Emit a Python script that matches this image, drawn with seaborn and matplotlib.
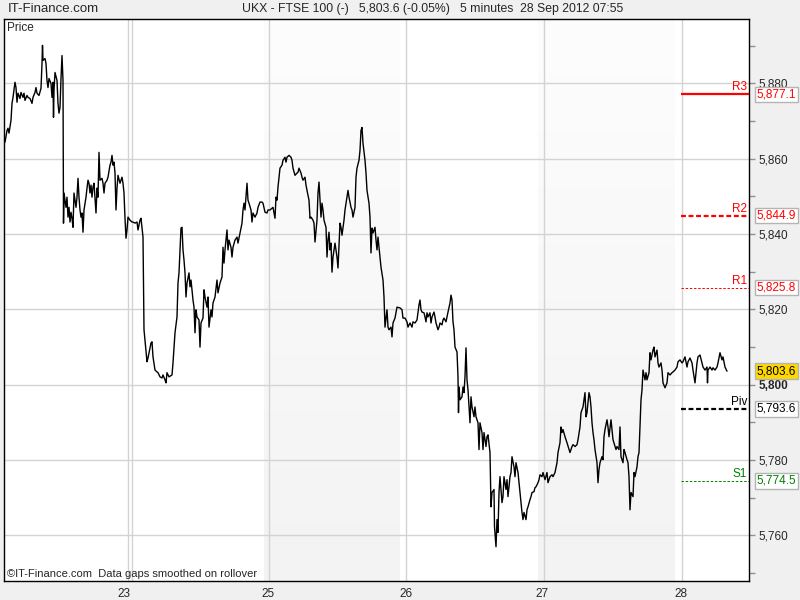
import matplotlib
matplotlib.use("Agg")
import matplotlib.pyplot as plt
import matplotlib.transforms as mtransforms
from matplotlib.colors import LinearSegmentedColormap
import numpy as np
import seaborn as sns

# 5 minute bars (x = bar position on the compressed time axis), FTSE 100 price
bar = [
    5, 7, 8, 9, 11, 12, 13, 15, 16, 17, 18, 20,
    21, 23, 24, 25, 27, 28, 30, 32, 33, 35, 36, 37,
    39, 41, 42, 42.5, 43, 45, 46, 47, 48, 49, 51, 52,
    53, 53.5, 54, 55, 57, 58, 59, 60, 61, 62, 63, 63.5,
    64, 66, 67, 68, 69, 70, 71, 72, 73, 74, 76, 77,
    78, 79, 80, 81, 82, 83, 84, 86, 87, 88, 89, 90,
    91, 92, 93, 94, 96, 97, 98, 99, 100, 102, 103, 104,
    105, 107, 108, 110, 111, 112, 113, 114, 115, 116, 117, 118,
    120, 122, 123, 124, 125, 126, 127, 128, 130, 132, 133, 135,
    137, 138, 140, 141, 142, 143, 144, 147, 148, 151, 152, 153,
    155, 157, 158, 160, 162, 163, 165, 166, 167, 169, 172, 173,
    175, 177, 178, 179, 181, 182, 183, 184, 185, 186, 187, 189,
    190, 191, 193, 194, 195, 196, 197, 199, 200, 201, 203, 204,
    205, 207, 208, 209, 211, 212, 213, 215, 217, 218, 220, 222,
    223, 224, 225, 227, 228, 229, 231, 232, 233, 235, 237, 238,
    240, 242, 243, 244, 245, 247, 248, 249, 251, 252, 253, 255,
    257, 258, 260, 262, 263, 265, 267, 268, 270, 273, 275, 276,
    277, 278, 280, 282, 283, 285, 286, 287, 289, 291, 292, 293,
    295, 297, 298, 299, 301, 302, 303, 305, 306, 307, 309, 310,
    311, 313, 314, 315, 317, 318, 319, 320, 321, 322, 323, 324,
    326, 327, 328, 329, 330, 331, 332, 333, 335, 336, 337, 338,
    340, 341, 342, 344, 345, 347, 348, 349, 351, 352, 353, 355,
    356, 357, 359, 360, 361, 362, 363, 365, 366, 367, 369, 370,
    371, 372, 373, 375, 376, 377, 378, 380, 381, 383, 384, 385,
    387, 388, 389, 391, 392, 393, 395, 396, 397, 400, 402, 403,
    405, 407, 408, 410, 412, 413, 415, 417, 418, 419, 420, 421,
    422, 424, 425, 426, 427, 428, 430, 431, 432, 434, 435, 436,
    438, 439, 440, 442, 443, 444, 446, 447, 448, 450, 451, 452,
    453, 454, 455, 457, 458, 458.5, 459, 460, 462, 463, 464, 465,
    466, 467, 468, 470, 471, 472, 474, 475, 476, 478, 479, 480,
    482, 483, 484, 486, 487, 488, 490, 491, 492, 494, 494.5, 496,
    497, 498, 499, 500, 502, 503, 504, 506, 507, 508, 510, 511,
    512, 514, 515, 516, 518, 519, 520, 522, 523, 524, 526, 527,
    528, 530, 531, 532, 534, 535, 536, 538, 539, 540, 542, 543,
    545, 547, 548, 550, 552, 553, 555, 557, 558, 560, 561, 562,
    563, 565, 566, 567, 569, 570, 572, 573, 575, 577, 578, 580,
    581, 583, 584, 585, 586, 587, 589, 590, 591, 592, 593, 594,
    595, 597, 598, 599, 600, 602, 603, 604, 605, 607, 608, 609,
    611, 612, 613, 615, 616, 617, 619, 620, 621, 623, 624, 625,
    627, 628, 629, 630, 631, 633, 634, 635, 637, 638, 639, 640,
    641, 642, 643, 645, 646, 647, 649, 650, 651, 653, 654, 655,
    657, 658, 659, 661, 662, 663, 665, 667, 668, 670, 672, 673,
    675, 677, 678, 680, 682, 683, 685, 687, 688, 690, 692, 693,
    695, 697, 698, 700, 702, 703, 705, 707, 707.5, 708, 710, 712,
    713, 715, 717, 718, 720, 722, 723, 725, 727,
]
price = [
    5864.4, 5867.5, 5868.1, 5866.8, 5870.2, 5874.7, 5876.3, 5880.3, 5878.9, 5875.0, 5877.4, 5876.0,
    5877.6, 5876.3, 5877.4, 5875.5, 5876.8, 5876.3, 5876.0, 5874.7, 5876.3, 5877.6, 5878.9, 5877.4,
    5876.8, 5878.7, 5885.3, 5890.1, 5886.1, 5886.6, 5885.3, 5880.8, 5878.9, 5881.3, 5880.0, 5876.3,
    5880.3, 5871.0, 5878.2, 5882.9, 5880.8, 5874.7, 5872.1, 5873.6, 5881.3, 5887.4, 5880.8, 5842.9,
    5850.9, 5847.1, 5849.8, 5844.5, 5847.1, 5843.2, 5845.8, 5844.2, 5841.8, 5850.9, 5847.1, 5849.8,
    5854.8, 5849.8, 5846.4, 5844.5, 5845.6, 5840.5, 5846.4, 5849.8, 5852.2, 5854.3, 5853.5, 5850.9,
    5853.0, 5849.8, 5852.5, 5853.5, 5845.6, 5852.2, 5849.8, 5861.7, 5854.3, 5854.8, 5853.5, 5850.9,
    5853.5, 5854.3, 5855.1, 5858.3, 5859.1, 5860.9, 5858.3, 5859.1, 5856.2, 5846.4, 5852.2, 5855.6,
    5853.5, 5855.1, 5853.5, 5850.9, 5844.2, 5838.9, 5841.1, 5844.5, 5843.7, 5843.2, 5843.2, 5842.9,
    5843.2, 5841.1, 5843.7, 5844.2, 5841.8, 5839.2, 5814.6, 5806.1, 5807.1, 5811.1, 5811.4, 5807.4,
    5803.9, 5803.4, 5803.2, 5802.1, 5801.8, 5802.6, 5801.3, 5800.5, 5803.2, 5802.1, 5802.6, 5805.8,
    5813.8, 5818.0, 5827.0, 5829.7, 5841.6, 5841.8, 5835.8, 5833.1, 5829.7, 5823.3, 5827.0, 5829.7,
    5826.0, 5827.8, 5822.5, 5820.6, 5813.8, 5819.9, 5818.0, 5817.2, 5810.0, 5816.4, 5817.7, 5825.2,
    5823.3, 5820.6, 5823.3, 5815.3, 5819.9, 5818.0, 5821.7, 5823.3, 5827.8, 5824.4, 5827.0, 5828.6,
    5836.5, 5832.3, 5835.8, 5841.1, 5835.8, 5838.4, 5836.5, 5833.9, 5836.5, 5838.4, 5839.2, 5837.6,
    5840.3, 5842.9, 5846.4, 5848.2, 5846.4, 5853.5, 5849.0, 5848.2, 5846.4, 5843.2, 5845.6, 5844.5,
    5845.6, 5847.1, 5848.5, 5848.5, 5848.2, 5845.8, 5845.6, 5846.4, 5846.4, 5847.1, 5844.2, 5849.8,
    5849.0, 5852.5, 5857.5, 5858.3, 5859.6, 5860.4, 5859.1, 5860.4, 5860.9, 5860.4, 5859.6, 5857.5,
    5855.6, 5856.2, 5856.4, 5857.5, 5856.2, 5855.1, 5854.3, 5855.1, 5853.0, 5851.6, 5849.0, 5844.2,
    5844.5, 5843.7, 5842.9, 5837.9, 5843.7, 5850.9, 5853.8, 5849.0, 5844.5, 5848.2, 5846.4, 5843.7,
    5841.8, 5833.9, 5838.4, 5840.5, 5835.8, 5837.6, 5829.9, 5833.9, 5837.6, 5835.8, 5833.9, 5831.0,
    5842.9, 5841.8, 5839.7, 5843.7, 5846.4, 5849.8, 5851.6, 5849.8, 5847.1, 5846.4, 5844.5, 5847.1,
    5855.1, 5857.5, 5859.6, 5862.2, 5867.5, 5868.3, 5864.1, 5859.6, 5856.2, 5851.6, 5848.2, 5844.5,
    5835.0, 5841.6, 5840.3, 5841.8, 5838.4, 5835.8, 5839.2, 5833.9, 5831.2, 5827.8, 5823.3, 5815.3,
    5819.9, 5815.3, 5814.6, 5815.3, 5812.7, 5816.4, 5817.7, 5819.1, 5820.6, 5820.4, 5819.9, 5817.7,
    5817.7, 5816.7, 5815.3, 5816.4, 5815.3, 5816.7, 5816.4, 5817.2, 5819.1, 5821.2, 5822.5, 5819.9,
    5819.3, 5819.1, 5818.0, 5816.7, 5819.1, 5818.0, 5819.1, 5816.4, 5818.0, 5819.3, 5818.0, 5816.4,
    5814.6, 5815.3, 5816.4, 5815.9, 5817.2, 5817.7, 5816.7, 5818.0, 5819.3, 5821.7, 5823.8, 5822.5,
    5816.7, 5814.6, 5810.0, 5808.7, 5802.1, 5792.6, 5799.4, 5796.0, 5796.8, 5799.4, 5797.9, 5802.1,
    5809.8, 5801.3, 5798.7, 5789.9, 5796.8, 5794.1, 5791.5, 5794.1, 5791.5, 5789.9, 5782.8, 5789.9,
    5787.3, 5782.8, 5787.3, 5783.6, 5786.2, 5786.7, 5782.0, 5767.6, 5771.4, 5772.2, 5762.3, 5757.0,
    5764.2, 5760.8, 5771.4, 5775.6, 5768.7, 5770.3, 5775.6, 5772.2, 5774.8, 5770.3, 5775.6, 5776.7,
    5780.9, 5778.2, 5775.6, 5779.3, 5776.7, 5774.0, 5771.4, 5766.1, 5764.2, 5766.1, 5764.2, 5766.8,
    5767.6, 5769.5, 5770.3, 5771.4, 5771.6, 5772.7, 5772.9, 5774.0, 5774.8, 5776.1, 5775.6, 5776.7,
    5774.8, 5776.7, 5774.0, 5775.6, 5776.1, 5775.6, 5776.7, 5779.3, 5782.0, 5784.6, 5788.8, 5787.3,
    5788.1, 5786.2, 5785.4, 5784.6, 5782.8, 5782.0, 5783.6, 5784.1, 5783.6, 5784.1, 5785.4, 5788.8,
    5792.6, 5794.1, 5796.0, 5797.9, 5791.5, 5792.6, 5797.9, 5796.8, 5794.1, 5789.9, 5787.3, 5785.4,
    5782.8, 5779.3, 5774.0, 5777.5, 5779.3, 5780.9, 5780.1, 5786.2, 5788.1, 5790.7, 5788.8, 5786.2,
    5790.7, 5788.1, 5785.4, 5783.6, 5782.8, 5783.6, 5782.8, 5788.8, 5780.9, 5779.3, 5782.8, 5782.0,
    5780.1, 5779.3, 5775.6, 5766.8, 5771.4, 5770.3, 5776.7, 5775.6, 5778.2, 5780.9, 5782.0, 5788.8,
    5796.0, 5798.6, 5803.9, 5801.3, 5803.2, 5801.3, 5803.2, 5808.5, 5806.6, 5809.2, 5810.0, 5807.4,
    5809.2, 5805.8, 5804.7, 5805.8, 5803.9, 5800.5, 5799.2, 5800.5, 5803.2, 5802.6, 5803.2, 5803.4,
    5803.9, 5804.7, 5806.1, 5806.6, 5805.8, 5806.1, 5807.4, 5804.7, 5806.1, 5807.1, 5805.8, 5803.9,
    5800.5, 5805.8, 5807.4, 5807.9, 5805.8, 5804.7, 5803.9, 5804.7, 5800.5, 5803.9, 5804.7, 5803.9,
    5804.5, 5803.9, 5804.7, 5805.8, 5808.5, 5806.6, 5807.4, 5804.7, 5803.6,
]

# time axis: day labels and grid positions (in bar units)
day_ticks = [124, 268, 406, 542, 681]
day_labels = ["23", "25", "26", "27", "28"]
day_grid = [128, 132, 269, 406, 544, 682]
session_bands = [(264, 400), (538, 675)]

price_ticks = [5760, 5780, 5800, 5820, 5840, 5860, 5880]
price_minor = [5750, 5770, 5790, 5810, 5830, 5850, 5870, 5890]

# pivot levels for the day
pivot_names = ["R3", "R2", "R1", "Piv", "S1"]
pivot_values = [5877.1, 5844.9, 5825.8, 5793.6, 5774.5]
pivot_colors = ["#ff0000", "#ff0000", "#ff0000", "#000000", "#008000"]
pivot_styles = ["-", (0, (2.2, 1.2)), (0, (2.5, 1.8)), (0, (2.2, 1.2)), (0, (2.5, 1.8))]
pivot_widths = [1.6, 1.6, 0.7, 1.6, 0.7]
pivot_start = 681

last_price = 5803.6
x_min, x_max = 4, 749
y_min, y_max = 5747.9, 5897.1

sns.set_style("white")
plt.rcParams["font.family"] = ["Liberation Sans", "DejaVu Sans"]

fig = plt.figure(figsize=(8, 6), dpi=100, facecolor="#f0f0f0")
ax = fig.add_axes([4 / 800, 19 / 600, 745 / 800, 562 / 600])
ax.set_facecolor("white")

# shaded sessions with a soft vertical gradient
band_cmap = LinearSegmentedColormap.from_list("band", ["#f3f3f3", "#fdfdfd"])
for a, b in session_bands:
    ax.imshow(np.linspace(0, 1, 200).reshape(-1, 1), extent=[a, b, y_min, y_max],
              origin="lower", cmap=band_cmap, aspect="auto", zorder=0)

for v in price_ticks:
    ax.axhline(v, color="#d3d3d3", lw=1.0, zorder=1)
for v in day_grid:
    ax.axvline(v, color="#d3d3d3", lw=1.0, zorder=1)

sns.lineplot(x=bar, y=price, ax=ax, color="black", linewidth=1.0,
             estimator=None, sort=False, zorder=3)

# pivot lines with their names
for name, v, c, ls, lw in zip(pivot_names, pivot_values, pivot_colors, pivot_styles, pivot_widths):
    ax.hlines(v, pivot_start, x_max, colors=c, linestyles=ls, linewidth=lw, zorder=4)
    ax.annotate(name, (x_max, v), xytext=(-2, 1), textcoords="offset pixels",
                ha="right", va="bottom", color=c, fontsize=8.5)

ax.set_xlim(x_min, x_max)
ax.set_ylim(y_min, y_max)

ax.yaxis.tick_right()
ax.set_yticks(price_ticks)
ax.set_yticklabels([f"{v:,}" for v in price_ticks])
ax.set_yticks(price_minor, minor=True)
ax.tick_params(axis="y", which="both", direction="out", length=4, width=1,
               color="#909090", labelsize=8.5, pad=3, left=False, right=True)
for lab in ax.get_yticklabels():
    if lab.get_text() == "5,800":
        lab.set_fontweight("bold")

ax.set_xticks(day_ticks)
ax.set_xticklabels(day_labels)
ax.tick_params(axis="x", length=0, labelsize=8.5, pad=5)
ax.set_xlabel("")
ax.set_ylabel("")

for s in ax.spines.values():
    s.set_color("black")
    s.set_linewidth(1.0)

# boxed price labels on the right side
blend = mtransforms.blended_transform_factory(ax.transAxes, ax.transData)
for v, c in zip(pivot_values, pivot_colors):
    ax.text(1.0105, v, f"{v:,.1f}", transform=blend, ha="left", va="center",
            color=c, fontsize=8.5, zorder=6, clip_on=False,
            bbox=dict(boxstyle="square,pad=0.15", fc="white", ec="#b4b4b4", lw=1))
ax.text(1.0105, last_price, f"{last_price:,.1f}", transform=blend, ha="left", va="center",
        color="black", fontsize=8.5, zorder=6, clip_on=False,
        bbox=dict(boxstyle="square,pad=0.15", fc="#ffd800", ec="#b4b4b4", lw=1))

ax.annotate("Price", (0, 1), xycoords="axes fraction", xytext=(3, -3),
            textcoords="offset pixels", ha="left", va="top", fontsize=8.5)
ax.annotate("\u00a9IT-Finance.com  Data gaps smoothed on rollover", (0, 0),
            xycoords="axes fraction", xytext=(3, 2), textcoords="offset pixels",
            ha="left", va="bottom", fontsize=8)

fig.text(8 / 800, 1 - 9 / 600, "IT-Finance.com", ha="left", va="center", fontsize=9.5)
fig.text(433 / 800, 1 - 9 / 600,
         "UKX - FTSE 100 (-)   5,803.6 (-0.05%)   5 minutes  28 Sep 2012 07:55",
         ha="center", va="center", fontsize=8.8)

fig.savefig("out.png", dpi=100, facecolor=fig.get_facecolor())
